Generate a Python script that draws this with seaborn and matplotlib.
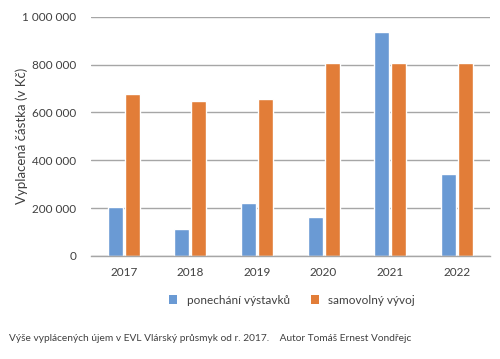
import matplotlib
matplotlib.use("Agg")
import matplotlib.pyplot as plt
import seaborn as sns
import pandas as pd
from matplotlib.ticker import FuncFormatter
from matplotlib.patches import Patch

years = ["2017", "2018", "2019", "2020", "2021", "2022"]
ponechani = [203000, 113000, 220000, 164000, 934000, 342000]
samovolny = [678000, 647000, 654000, 805000, 805000, 805000]
series_names = ["ponechání výstavků", "samovolný vývoj"]
colors = ["#6a9ad4", "#e27d38"]

df = pd.DataFrame({
    "rok": years * 2,
    "hodnota": ponechani + samovolny,
    "serie": [series_names[0]] * len(years) + [series_names[1]] * len(years),
})

sns.set_theme(style="white")
plt.rcParams['font.family'] = ['Lato', 'DejaVu Sans']

fig = plt.figure(figsize=(5.0, 3.59), dpi=100)
ax = fig.add_axes([0.181, 0.287, 0.799, 0.6665])

sns.barplot(data=df, x="rok", y="hodnota", hue="serie", palette=colors,
            width=0.51, gap=0.12, ax=ax, legend=False, saturation=1)

ax.set_xlim(-0.5, 5.5)
ax.set_ylim(0, 1000000)
ax.set_yticks([0, 200000, 400000, 600000, 800000, 1000000])
ax.yaxis.set_major_formatter(FuncFormatter(lambda v, p: f"{int(v):,}".replace(",", " ")))
ax.grid(axis="y", color="#a6a6a6", linewidth=1.0)
ax.set_axisbelow(True)
for s in ["top", "right", "left"]:
    ax.spines[s].set_visible(False)
ax.spines["bottom"].set_color("#a6a6a6")
ax.spines["bottom"].set_linewidth(1.0)
ax.tick_params(axis="both", length=0, labelsize=8.5, colors="#404040", pad=8)
ax.tick_params(axis="y", pad=10)
ax.set_xlabel("")
ax.set_ylabel("Vyplacená částka (v Kč)", fontsize=9.5, color="#404040")
ax.yaxis.set_label_coords(-0.157, 0.503)

handles = [Patch(facecolor=c, edgecolor="none") for c in colors]
fig.legend(handles, series_names, loc="center", bbox_to_anchor=(0.584, 0.164),
           ncol=2, frameon=False, fontsize=8.5, handlelength=0.7, handleheight=0.7,
           columnspacing=1.8, handletextpad=0.8, labelcolor="#404040")

fig.text(0.018, 0.056, "Výše vyplácených újem v EVL Vlárský průsmyk od r. 2017.    Autor Tomáš Ernest Vondřejc",
         fontsize=7.3, color="#404040", va="center", ha="left")

fig.savefig("out.png", dpi=100, facecolor="white")
